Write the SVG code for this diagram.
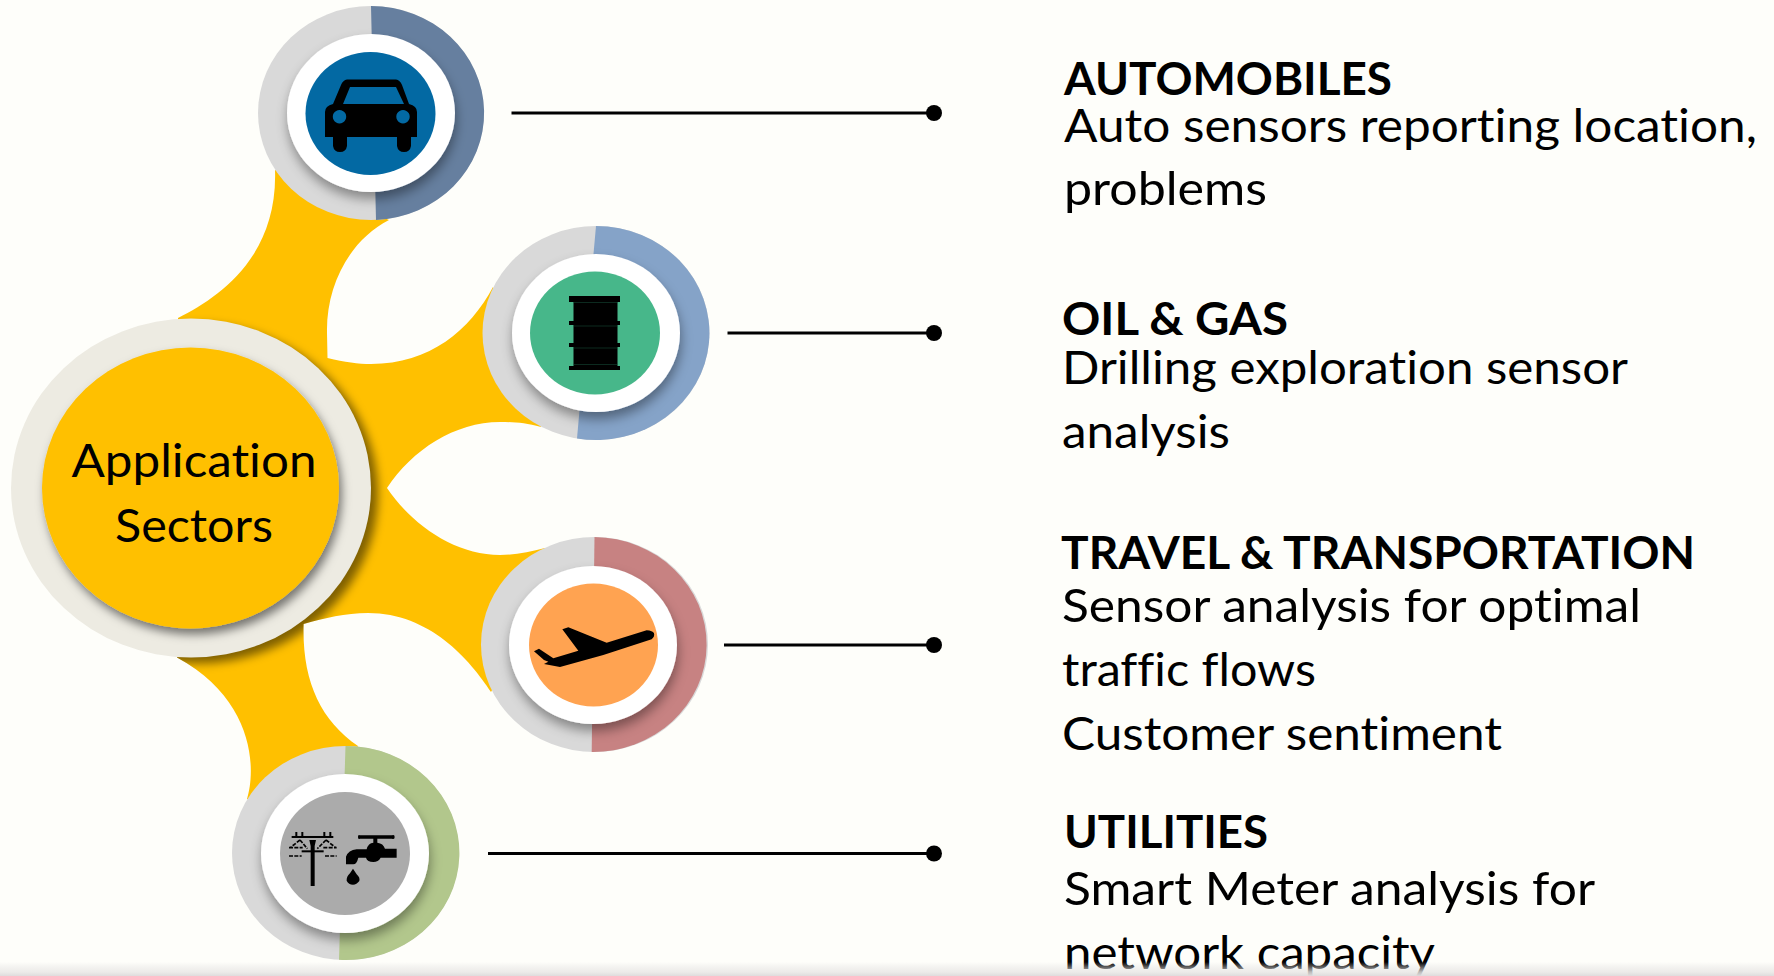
<svg xmlns="http://www.w3.org/2000/svg" width="1774" height="976" viewBox="0 0 1774 976">
<style>
text{font-family:"Lato","Carlito","Open Sans","Liberation Sans",sans-serif;fill:#000;font-size:46.5px;font-variant-ligatures:none}
.h{font-weight:700}
.ld{stroke:#000;stroke-width:3;fill:none}
.dot{fill:#000}
.ringbase{fill:#D9D9D9}
.white{fill:#fff;filter:url(#s1)}
.icon{fill:#000}
</style>
<defs>
<filter id="s1" x="-30%" y="-30%" width="160%" height="160%"><feDropShadow dx="1" dy="7" stdDeviation="6" flood-color="#000" flood-opacity="0.38"/></filter>
<filter id="blur2" x="-20%" y="-20%" width="140%" height="140%"><feGaussianBlur stdDeviation="5"/></filter>
<filter id="s3" x="-20%" y="-20%" width="140%" height="140%"><feDropShadow dx="3" dy="6" stdDeviation="5" flood-color="#000" flood-opacity="0.5"/></filter>
<clipPath id="hubclip"><path d="M178,318 C220,297 278,256 275,170 L389,220 C350,240 326,285 327,333 L327.5,358 C345,362 358,364 371,364 C430,364 470,330 493,287 L520,340 L541,427 C525,423 515,422 500,422 C455,422 412,450 387,488 C412,525 455,555 500,555 C515,555 530,552 545,548 L520,640 L491,692 C470,660 430,613 368,613 C345,613 325,618 303.6,624 C302,680 320,720 358,746 L340,850 L247,799 C256,770 255,700 177,657.6 Z"/></clipPath>
<linearGradient id="fade" x1="0" y1="0" x2="0" y2="1"><stop offset="0" stop-color="#E2E0E0" stop-opacity="0"/><stop offset="0.7" stop-color="#E8E7E5" stop-opacity="0.8"/><stop offset="1" stop-color="#DEDCDC"/></linearGradient>
</defs>
<rect id="background" width="1774" height="976" fill="#FEFEFA"/>
<path id="hub-branches" fill="#FFC000" d="M178,318 C220,297 278,256 275,170 L389,220 C350,240 326,285 327,333 L327.5,358 C345,362 358,364 371,364 C430,364 470,330 493,287 L520,340 L541,427 C525,423 515,422 500,422 C455,422 412,450 387,488 C412,525 455,555 500,555 C515,555 530,552 545,548 L520,640 L491,692 C470,660 430,613 368,613 C345,613 325,618 303.6,624 C302,680 320,720 358,746 L340,850 L247,799 C256,770 255,700 177,657.6 Z"/>

<g id="node-center">
<g clip-path="url(#hubclip)"><ellipse cx="198" cy="494" rx="180" ry="169.5" fill="#000" fill-opacity="0.5" filter="url(#blur2)"/></g>
<ellipse cx="191" cy="488" rx="180" ry="169.5" fill="#EDEBE2"/>
<ellipse cx="190.5" cy="488" rx="148.5" ry="140.5" fill="#FFC000" filter="url(#s3)"/>
<text x="71.5" y="477" textLength="245" lengthAdjust="spacingAndGlyphs">Application</text>
<text x="115" y="541.5" textLength="158" lengthAdjust="spacingAndGlyphs">Sectors</text>
</g>

<g id="node-automobiles">
<ellipse class="ringbase" cx="371" cy="113" rx="113" ry="107"/>
<path fill="#667F9F" d="M371,6 A113,107 0 0 1 376,219.9 Z"/>
<ellipse class="white" cx="371" cy="113" rx="84" ry="79"/>
<ellipse cx="370.5" cy="113.5" rx="65" ry="61.5" fill="#0369A3"/>
<path class="icon" fill-rule="evenodd" d="M347,79.5 H396 Q400,80 402,85 L409,104 Q417,106 417,112 V137 H411 V146 Q410,152 404,152 Q398,152 397,146 V137 H347 V146 Q346,152 340,152 Q334,152 333,146 V137 H325 V112 Q325,106 333,104 L341,85 Q343,80 347,79.5 Z M350,87 L343,104 H404 L396,87 Z M339.5,110 a6.7,6.7 0 1 0 0.01,0 Z M403,110 a6.7,6.7 0 1 0 0.01,0 Z"/>
</g>

<g id="node-oil-gas">
<ellipse class="ringbase" cx="596" cy="333" rx="113.5" ry="107"/>
<path fill="#85A3C8" d="M596,226 A113.5,107 0 1 1 577,438.5 Z"/>
<ellipse class="white" cx="596" cy="333" rx="84" ry="79"/>
<ellipse cx="595" cy="333" rx="65" ry="61.5" fill="#47B78A"/>
<g class="icon">
<rect x="573.5" y="296" width="44" height="74"/>
<rect x="569" y="296" width="51" height="6"/>
<rect x="569" y="321" width="51" height="4"/>
<rect x="569" y="343" width="51" height="4"/>
<rect x="569" y="366" width="51" height="4"/>
</g>
<path d="M574,302.5 H617 M574,326 H617 M574,348 H617 M574,364.5 H617" stroke="#0C2A1F" stroke-width="1" fill="none"/>
</g>

<g id="node-travel">
<ellipse class="ringbase" cx="594.5" cy="644.5" rx="113.5" ry="107.5"/>
<path fill="#C78282" d="M594.5,537 A113.5,107.5 0 1 1 591.7,752 Z"/>
<ellipse class="white" cx="593" cy="645" rx="84" ry="79"/>
<ellipse cx="593.5" cy="645" rx="64.5" ry="61.5" fill="#FFA351"/>
<path class="icon" transform="translate(470,520) scale(0.3333)" d="M552,340 Q548,332 530,331 L410,368 L295,322 L277,328 L325,392 L250,415 L207,386 L192,394 L222,420 L235,425 L222,432 L270,441 L400,405 L545,358 Q555,350 552,340 Z"/>
</g>

<g id="node-utilities">
<ellipse class="ringbase" cx="345.5" cy="853" rx="113.5" ry="107"/>
<path fill="#B2C78C" d="M345.5,746 A113.5,107 0 1 1 339,959.8 Z"/>
<ellipse class="white" cx="345" cy="853.5" rx="84" ry="79.5"/>
<ellipse cx="345" cy="853.5" rx="65" ry="61.5" fill="#ABABAB"/>
<g transform="translate(220,736) scale(0.3333)">
<g class="icon">
<path d="M268,312 H288 L284,330 V450 H272 V330 Z"/>
<rect x="215" y="300" width="125" height="6"/>
<rect x="226" y="288" width="6" height="14"/><rect x="244" y="288" width="6" height="14"/>
<rect x="310" y="288" width="6" height="14"/><rect x="328" y="288" width="6" height="14"/>
<rect x="245" y="343" width="66" height="6"/>
</g>
<path d="M240,312 L212,334 M240,312 L262,338 M318,312 L292,338 M318,312 L346,334 M207,335 H248 M310,335 H350 M207,360 H245 M315,360 H350" stroke="#000" stroke-width="5" stroke-dasharray="12 4" fill="none"/>
<g class="icon">
<path d="M378,385 V362 Q385,343 410,340 H440 Q445,320 460,320 V308 H420 Q414,312 414,303 Q414,294 420,298 H516 Q524,294 524,303 Q524,312 516,308 H472 V320 Q490,322 495,338 H530 V365 H482 Q475,378 460,378 Q442,378 438,365 H415 Q410,385 400,385 Z"/>
<path d="M399,398 L410,415 Q421,425 418,435 Q410,446 399,446 Q386,446 380,434 Q379,422 390,412 Z"/>
</g>
</g>
</g>

<g id="connectors">
<path class="ld" d="M511.5,113 H934"/><circle class="dot" cx="934" cy="113" r="8"/>
<path class="ld" d="M727.5,333 H934"/><circle class="dot" cx="934" cy="333" r="8"/>
<path class="ld" d="M724,645 H934"/><circle class="dot" cx="934" cy="645" r="8"/>
<path class="ld" d="M488,853.5 H934"/><circle class="dot" cx="934" cy="853.5" r="8"/>
</g>

<g id="label-automobiles">
<text class="h" x="1064" y="95" textLength="328" lengthAdjust="spacingAndGlyphs">AUTOMOBILES</text>
<text x="1064" y="141.5" textLength="693" lengthAdjust="spacingAndGlyphs">Auto sensors reporting location,</text>
<text x="1064" y="205" textLength="203" lengthAdjust="spacingAndGlyphs">problems</text>
</g>
<g id="label-oil-gas">
<text class="h" x="1062" y="335" textLength="226" lengthAdjust="spacingAndGlyphs">OIL &amp; GAS</text>
<text x="1062" y="384" textLength="566" lengthAdjust="spacingAndGlyphs">Drilling exploration sensor</text>
<text x="1062" y="448" textLength="168" lengthAdjust="spacingAndGlyphs">analysis</text>
</g>
<g id="label-travel">
<text class="h" x="1061" y="569" textLength="634" lengthAdjust="spacingAndGlyphs">TRAVEL &amp; TRANSPORTATION</text>
<text x="1062" y="622" textLength="579" lengthAdjust="spacingAndGlyphs">Sensor analysis for optimal</text>
<text x="1062" y="685.5" textLength="254" lengthAdjust="spacingAndGlyphs">traffic flows</text>
<text x="1062" y="750" textLength="440" lengthAdjust="spacingAndGlyphs">Customer sentiment</text>
</g>
<g id="label-utilities">
<text class="h" x="1064" y="848" textLength="204" lengthAdjust="spacingAndGlyphs">UTILITIES</text>
<text x="1064" y="905" textLength="531" lengthAdjust="spacingAndGlyphs">Smart Meter analysis for</text>
<text x="1064" y="969" textLength="371" lengthAdjust="spacingAndGlyphs">network capacity</text>
</g>
<rect id="bottom-edge" x="0" y="962" width="1774" height="14" fill="url(#fade)"/>
</svg>
